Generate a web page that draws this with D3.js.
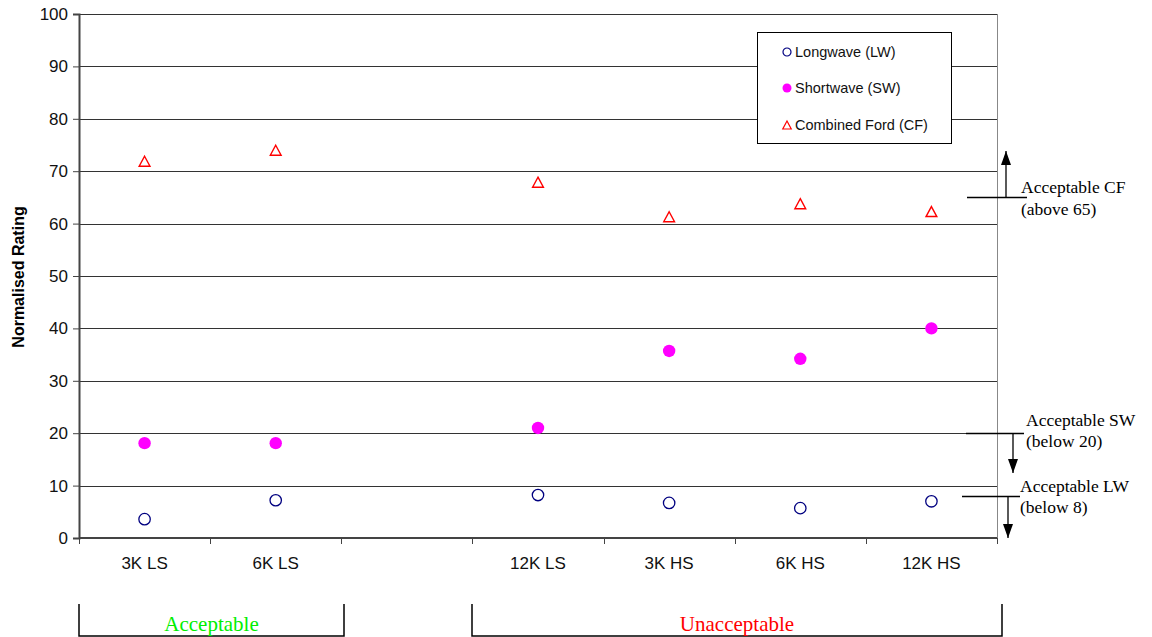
<!DOCTYPE html>
<html>
<head>
<meta charset="utf-8">
<script src="https://cdn.jsdelivr.net/npm/d3@7"></script>
<style>
  body { margin: 0; background: #fff; }
  svg { display: block; }
</style>
</head>
<body>
<script>
// chart data
const categories = ["3K LS", "6K LS", "gap", "12K LS", "3K HS", "6K HS", "12K HS"];
const longwave = [3.6, 7.2, null, 8.2, 6.7, 5.7, 7.0];
const shortwave = [18.1, 18.1, null, 21.0, 35.7, 34.2, 40.0];
const combinedFord = [71.9, 74.0, null, 67.9, 61.3, 63.8, 62.3];
const yTicks = [0, 10, 20, 30, 40, 50, 60, 70, 80, 90, 100];
const legendNames = ["Longwave (LW)", "Shortwave (SW)", "Combined Ford (CF)"];
const limits = [
  { value: 65, line1: "Acceptable CF", line2: "(above 65)" },
  { value: 20, line1: "Acceptable SW", line2: "(below 20)" },
  { value: 8, line1: "Acceptable LW", line2: "(below 8)" }
];
const groups = [
  { label: "Acceptable", color: "#00ee00" },
  { label: "Unacceptable", color: "#ff0000" }
];

const width = 1152, height = 637;
const plotLeft = 79, plotRight = 997, plotTop = 14, plotBottom = 538;
const sans = "Arial, 'Liberation Sans', sans-serif";
const serif = "'Times New Roman', 'Liberation Serif', serif";

const svg = d3.select("body").append("svg")
  .attr("width", width).attr("height", height)
  .style("font-family", sans);

const x = d3.scaleBand().domain(categories).range([plotLeft, plotRight]);
const y = d3.scaleLinear().domain([0, 100]).range([plotBottom, plotTop]);

// gridlines
svg.append("g").selectAll("line")
  .data(yTicks.filter(d => d > 0))
  .join("line")
  .attr("x1", plotLeft).attr("x2", plotRight)
  .attr("y1", d => Math.round(y(d)) + 0.5).attr("y2", d => Math.round(y(d)) + 0.5)
  .attr("stroke", "#333").attr("stroke-width", 1);

// right border
svg.append("line")
  .attr("x1", plotRight + 0.5).attr("x2", plotRight + 0.5).attr("y1", plotTop).attr("y2", plotBottom)
  .attr("stroke", "#888").attr("stroke-width", 1);

// y axis
const yAxis = svg.append("g")
  .attr("transform", `translate(${plotLeft},0)`)
  .call(d3.axisLeft(y).tickValues(yTicks).tickSize(6).tickPadding(5));
yAxis.select(".domain").attr("stroke", "#444").attr("stroke-width", 2);
yAxis.selectAll(".tick line").attr("stroke", "#444");
yAxis.selectAll("text").attr("font-size", 17).attr("fill", "#111")
  .style("font-family", sans);

// x axis line
svg.append("line")
  .attr("x1", plotLeft).attr("x2", plotRight).attr("y1", plotBottom).attr("y2", plotBottom)
  .attr("stroke", "#444").attr("stroke-width", 2);

// x ticks at band boundaries
const bounds = categories.map(c => x(c)).concat([plotRight]);
svg.append("g").selectAll("line")
  .data(bounds).join("line")
  .attr("x1", d => Math.round(d) + 0.5).attr("x2", d => Math.round(d) + 0.5)
  .attr("y1", plotBottom).attr("y2", plotBottom + 6)
  .attr("stroke", "#444");

svg.append("g").selectAll("text")
  .data(categories.filter(c => c !== "gap")).join("text")
  .attr("x", d => x(d) + x.bandwidth() / 2)
  .attr("y", plotBottom + 31)
  .attr("text-anchor", "middle")
  .attr("font-size", 17).attr("fill", "#111")
  .text(d => d);

// y axis title
svg.append("text")
  .attr("transform", `translate(24,${(plotTop + plotBottom) / 2 + 1}) rotate(-90)`)
  .attr("text-anchor", "middle")
  .attr("font-size", 16).attr("font-weight", "bold")
  .text("Normalised Rating");

const cx = i => x(categories[i]) + x.bandwidth() / 2;
// triangle centred on its bounding box, like the spreadsheet marker
const triPath = (w, h) => `M0,${-h / 2} L${w / 2},${h / 2} L${-w / 2},${h / 2} Z`;

// longwave
svg.append("g").selectAll("circle")
  .data(longwave.map((v, i) => [v, i]).filter(d => d[0] != null))
  .join("circle")
  .attr("cx", d => cx(d[1])).attr("cy", d => y(d[0])).attr("r", 5.7)
  .attr("fill", "none").attr("stroke", "#000080").attr("stroke-width", 1.3);

// shortwave
svg.append("g").selectAll("circle")
  .data(shortwave.map((v, i) => [v, i]).filter(d => d[0] != null))
  .join("circle")
  .attr("cx", d => cx(d[1])).attr("cy", d => y(d[0])).attr("r", 6.2)
  .attr("fill", "#ff00ff");

// combined ford
svg.append("g").selectAll("path")
  .data(combinedFord.map((v, i) => [v, i]).filter(d => d[0] != null))
  .join("path")
  .attr("d", triPath(10.8, 10))
  .attr("transform", d => `translate(${cx(d[1])},${y(d[0])})`)
  .attr("fill", "none").attr("stroke", "#ff0000").attr("stroke-width", 1.4);

// legend
const lg = svg.append("g");
lg.append("rect")
  .attr("x", 757.5).attr("y", 32.5).attr("width", 194).attr("height", 111)
  .attr("fill", "#fff").attr("stroke", "#000").attr("stroke-width", 1);
const ly = [52, 88, 125];
legendNames.forEach((name, i) => {
  const g = lg.append("g").attr("transform", `translate(787,${ly[i]})`);
  if (i === 0) g.append("circle").attr("r", 4).attr("fill", "none").attr("stroke", "#000080").attr("stroke-width", 1.2);
  if (i === 1) g.append("circle").attr("r", 4.5).attr("fill", "#ff00ff");
  if (i === 2) g.append("path").attr("d", triPath(8.5, 8)).attr("fill", "none").attr("stroke", "#ff0000").attr("stroke-width", 1.2);
  lg.append("text").attr("x", 795).attr("y", ly[i] + 5)
    .attr("font-size", 14.5).attr("fill", "#111").text(name);
});

// arrow marker
svg.append("defs").append("marker")
  .attr("id", "ah").attr("viewBox", "0 0 14 10")
  .attr("refX", 14).attr("refY", 5)
  .attr("markerWidth", 14).attr("markerHeight", 10)
  .attr("markerUnits", "userSpaceOnUse")
  .attr("orient", "auto")
  .append("path").attr("d", "M0,0 L14,5 L0,10 Z").attr("fill", "#000");

// limit annotations
const limitLayout = [
  { x1: 967, x2: 1027, ax: 1006, tip: 151, tx: 1021, ty1: -5, ty2: 17 },
  { x1: 966, x2: 1024, ax: 1013, tip: 473, tx: 1026, ty1: -8, ty2: 13 },
  { x1: 962, x2: 1020, ax: 1008, tip: 538, tx: 1020, ty1: -5, ty2: 16 }
];
limits.forEach((lim, i) => {
  const L = limitLayout[i], yy = Math.round(y(lim.value)) + 0.5;
  svg.append("line").attr("x1", L.x1).attr("x2", L.x2).attr("y1", yy).attr("y2", yy)
    .attr("stroke", "#000").attr("stroke-width", 1.5);
  svg.append("line").attr("x1", L.ax).attr("x2", L.ax).attr("y1", yy).attr("y2", L.tip)
    .attr("stroke", "#000").attr("stroke-width", 1.3).attr("marker-end", "url(#ah)");
  svg.append("text").attr("x", L.tx).attr("y", yy + L.ty1)
    .attr("font-size", 17.5).style("font-family", serif).text(lim.line1);
  svg.append("text").attr("x", L.tx).attr("y", yy + L.ty2)
    .attr("font-size", 17.5).style("font-family", serif).text(lim.line2);
});

// group brackets
const bracketX = [[79, 344], [472, 1002]];
groups.forEach((g, i) => {
  const [a, b] = bracketX[i];
  svg.append("path")
    .attr("d", `M${a},604 V636 H${b} V604`)
    .attr("fill", "none").attr("stroke", "#000").attr("stroke-width", 1.5);
  svg.append("text").attr("x", (a + b) / 2).attr("y", 631)
    .attr("text-anchor", "middle").attr("font-size", 21)
    .style("font-family", serif).attr("fill", g.color).text(g.label);
});
</script>
</body>
</html>
